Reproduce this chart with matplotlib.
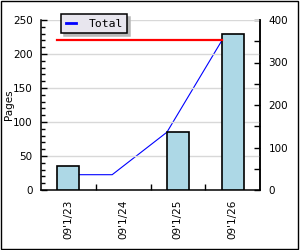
import matplotlib
matplotlib.use('Agg')
import matplotlib.pyplot as plt
import numpy as np
from matplotlib.patches import Rectangle
from matplotlib.ticker import MultipleLocator

# chart data
dates = ["09'1/23", "09'1/24", "09'1/25", "09'1/26"]
pages = [35, 0, 85, 229]          # bars, left axis
total = [36, 36, 136, 351]        # blue line, right axis
target = 220                      # red line, left axis

plt.rcParams['font.family'] = ['DejaVu Sans']
plt.rcParams['font.size'] = 7.5

fig = plt.figure(figsize=(3.0, 2.5), dpi=100)
fig.patch.set_facecolor('white')
fig.patches.append(Rectangle((0.002, 0.006), 0.99, 0.99, transform=fig.transFigure,
                             fill=False, edgecolor='black', linewidth=1.0))

ax = fig.add_axes([41 / 300, 60 / 250, 219 / 300, 170 / 250])
ax2 = ax.twinx()
ax.set_zorder(ax2.get_zorder() + 1)
ax.patch.set_visible(False)

x = np.arange(len(dates)) + 0.5
w = 0.40
left_edges = x - w / 2

bars = ax.bar(x, pages, width=w, color='#add8e6', edgecolor='black', linewidth=1.2, zorder=3)
for b, v in zip(bars, pages):
    if v == 0:
        b.set_visible(False)
ax.plot([left_edges[0], left_edges[-1]], [target, target], color='red', linewidth=1.6, zorder=4)

ax2.plot(left_edges, total, color='blue', linewidth=0.8, label='Total')

ax.set_xlim(0, len(dates))
ax.set_ylim(0, 250)
ax2.set_ylim(0, 400)

# gridlines
for v in range(50, 251, 50):
    ax.axhline(v, color='#d8d8d8', linewidth=1, zorder=0)

ax.yaxis.set_major_locator(MultipleLocator(50))
ax.yaxis.set_minor_locator(MultipleLocator(10))
ax.tick_params(axis='y', which='major', direction='in', length=4, width=1, pad=6)
ax.tick_params(axis='y', which='minor', direction='in', length=3, width=1)

ax2.yaxis.set_major_locator(MultipleLocator(100))
ax2.yaxis.set_minor_locator(MultipleLocator(50))
ax2.tick_params(axis='y', which='major', direction='in', length=4, width=1, pad=6)
ax2.tick_params(axis='y', which='minor', direction='in', length=4, width=1)

ax.set_xticks([1, 2, 3])
ax.set_xticklabels([])
ax.set_xticks(x, minor=True)
ax.set_xticklabels(dates, minor=True, rotation=90, va='top')
ax.tick_params(axis='x', which='major', direction='in', length=4, width=1)
ax.tick_params(axis='x', which='minor', length=0, pad=7)

for a in (ax, ax2):
    a.spines['top'].set_visible(False)
    for s in ('left', 'right', 'bottom'):
        a.spines[s].set_linewidth(1.1)
ax2.spines['left'].set_visible(False)
ax2.spines['bottom'].set_visible(False)

ax.set_ylabel('Pages')
ax.yaxis.set_label_coords(14 / 300, 145 / 250, transform=fig.transFigure)

leg = ax2.legend(loc='upper left', bbox_to_anchor=(61 / 300, 1 - 14 / 250),
                 bbox_transform=fig.transFigure, borderaxespad=0,
                 fancybox=False, shadow={'color': '#b8b8b8', 'alpha': 1, 'ox': 2.2, 'oy': -2.2},
                 edgecolor='black', facecolor='#e8e6ee', framealpha=1,
                 handlelength=0.9, handletextpad=1.1, borderpad=0.4,
                 prop={'family': 'DejaVu Sans Mono', 'size': 8.2})
leg.get_frame().set_linewidth(1.1)
leg.get_lines()[0].set_linewidth(2)
# keep legend on top by moving it to the front axes
leg.remove()
ax.add_artist(leg)

fig.savefig('out.png', dpi=100)
